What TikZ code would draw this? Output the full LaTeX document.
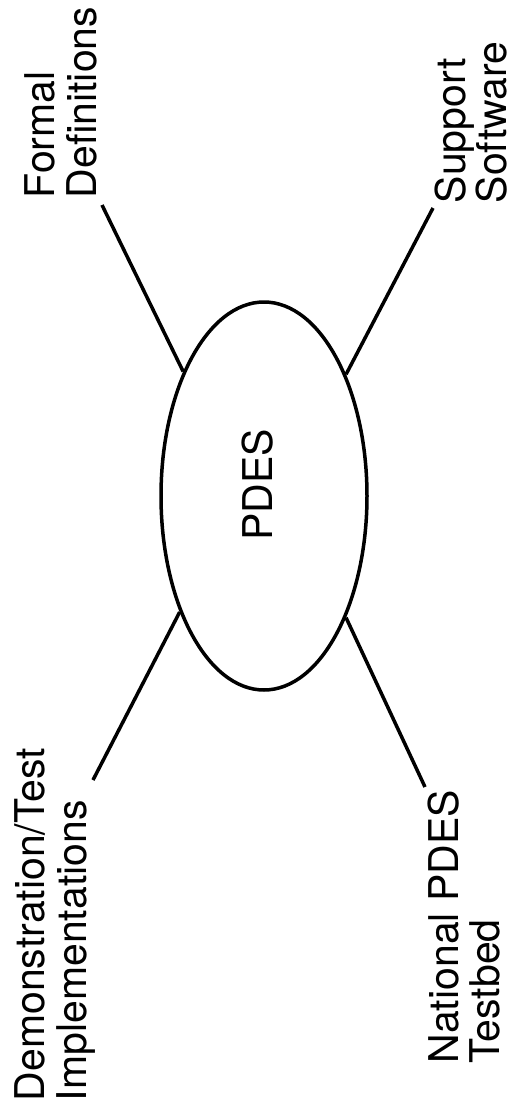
\documentclass[tikz,border=0pt]{standalone}
\usepackage{fontspec}
\setmainfont{TeX Gyre Heros}
\usetikzlibrary{shapes.geometric}
\begin{document}
\begin{tikzpicture}[x=1pt, y=-1pt, line width=3.5pt,
  hub/.style={draw, ellipse, inner sep=0pt, minimum width=206pt, minimum height=388pt},
  lbl/.style={rotate=90, align=left, inner sep=0pt, anchor=north west,
              font=\fontsize{41}{41.5}\selectfont},
  spoke/.style={draw}]
\useasboundingbox (0,0) rectangle (516,1119);

% central ellipse and its label
\node[hub] (pdes) at (264,496) {};
\node[lbl, anchor=center] (title) at (258,485) {PDES};

% surrounding labels, read bottom to top
\node[lbl] (formal)   at (23,200)   {Formal\\Definitions};
\node[lbl] (support)  at (433,205)  {Support\\Software};
\node[lbl] (demo)     at (13,1103)  {Demonstration/Test\\Implementations};
\node[lbl] (national) at (426,1065) {National PDES\\Testbed};

% free ends of the spokes, next to each label
\coordinate (fEnd) at (102,205);
\coordinate (sEnd) at (433,208);
\coordinate (dEnd) at (93,780);
\coordinate (nEnd) at (425,787);

% spokes from the ellipse border
\path[spoke] (fEnd) -- (pdes.123.5);
\path[spoke] (sEnd) -- (pdes.56.2);
\path[spoke] (dEnd) -- (pdes.234.3);
\path[spoke] (nEnd) -- (pdes.304.2);
\end{tikzpicture}
\end{document}
